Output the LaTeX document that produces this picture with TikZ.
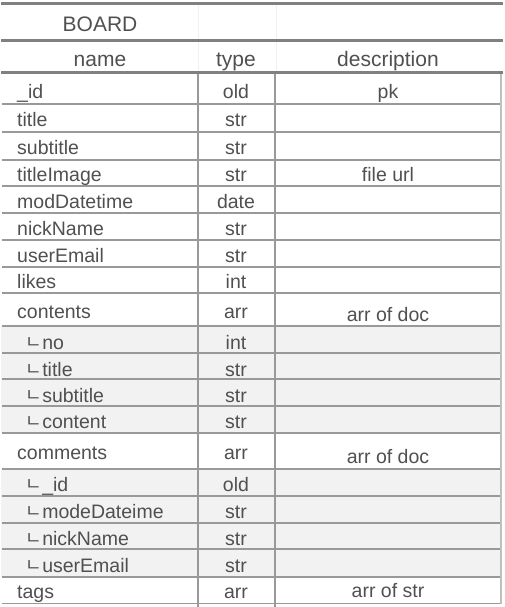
\documentclass[tikz,border=0pt]{standalone}
\usepackage{fontspec}
\setmainfont{Liberation Sans}
\newfontfamily\cjk{Noto Sans CJK KR}
\definecolor{txt}{HTML}{505050}
\definecolor{thickc}{HTML}{808080}
\definecolor{thinc}{HTML}{999999}
\definecolor{rowshade}{HTML}{F2F2F2}
\tikzset{
 cell/.style={inner sep=0pt, text=txt, font=\fontsize{19.5}{19.5}\selectfont},
 head/.style={inner sep=0pt, text=txt, font=\fontsize{21}{21}\selectfont},
 thickrule/.style={draw=thickc, line width=3pt},
 thinrule/.style={draw=thinc, line width=1.1pt},
 vrule/.style={draw=thinc, line width=1.3pt},
 faint/.style={draw=black!6, line width=1pt},
 shaded/.style={fill=rowshade},
}
\newcommand\subm{\raisebox{1pt}{\cjk\fontsize{18}{18}\selectfont ㄴ}\kern0.5pt}
\newcommand\entry[4]{% id, baseline, name, type
 \node[cell, anchor=base west] (n#1) at (17,#2) {#3};
 \node[cell, anchor=base] (t#1) at (236,#2) {#4};}
\newcommand\subentry[4]{% id, baseline, name, type
 \node[cell, anchor=base west] (n#1) at (25,#2) {\subm #3};
 \node[cell, anchor=base] (t#1) at (236,#2) {#4};}
\newcommand\desc[3]{\node[cell, anchor=base] (d#1) at (388,#2) {#3};}
\begin{document}
\begin{tikzpicture}[x=1pt,y=-1pt]
\useasboundingbox (0,0) rectangle (504,607);
% shaded sub-rows
\path[shaded] (1,326) rectangle (501,433);
\path[shaded] (1,469) rectangle (501,577);
% faint header verticals
\draw[faint] (198,4) -- (198,73) (276,4) -- (276,73);
% thin rules
\foreach \yy in {104,132,160,186,213,240,267,293,326,353,379,406,433,469,496,523,549,577,603.5}
  \draw[thinrule] (2,\yy) -- (501,\yy);
% verticals
\draw[vrule] (198,73) -- (198,607);
\draw[vrule] (275,73) -- (275,607);
\draw[draw=black!25, line width=1.2pt] (501,73) -- (501,603.5);
% thick rules
\draw[thickrule] (1,4) -- (503,4);
\draw[thickrule] (1,41) -- (503,41);
\draw[thickrule] (1,73) -- (503,73);
% header
\node[head, anchor=base] (board) at (100,32) {BOARD};
\node[head, anchor=base] (hname) at (100,67) {name};
\node[head, anchor=base] (htype) at (236,67) {type};
\node[head, anchor=base] (hdesc) at (388,67) {description};
% rows
\entry{1}{99}{\_id}{old}
\entry{2}{126}{title}{str}
\entry{3}{154}{subtitle}{str}
\entry{4}{181}{titleImage}{str}
\entry{5}{208}{modDatetime}{date}
\entry{6}{235}{nickName}{str}
\entry{7}{262}{userEmail}{str}
\entry{8}{288}{likes}{int}
\entry{9}{318}{contents}{arr}
\subentry{10}{349}{no}{int}
\subentry{11}{376}{title}{str}
\subentry{12}{402}{subtitle}{str}
\subentry{13}{428}{content}{str}
\entry{14}{459}{comments}{arr}
\subentry{15}{491}{\_id}{old}
\subentry{16}{518}{modeDateime}{str}
\subentry{17}{545}{nickName}{str}
\subentry{18}{572}{userEmail}{str}
\entry{19}{598}{tags}{arr}
\desc{1}{99}{pk}
\desc{4}{181}{file url}
\desc{9}{321}{arr of doc}
\desc{14}{463}{arr of doc}
\desc{19}{597}{arr of str}
\end{tikzpicture}
\end{document}
